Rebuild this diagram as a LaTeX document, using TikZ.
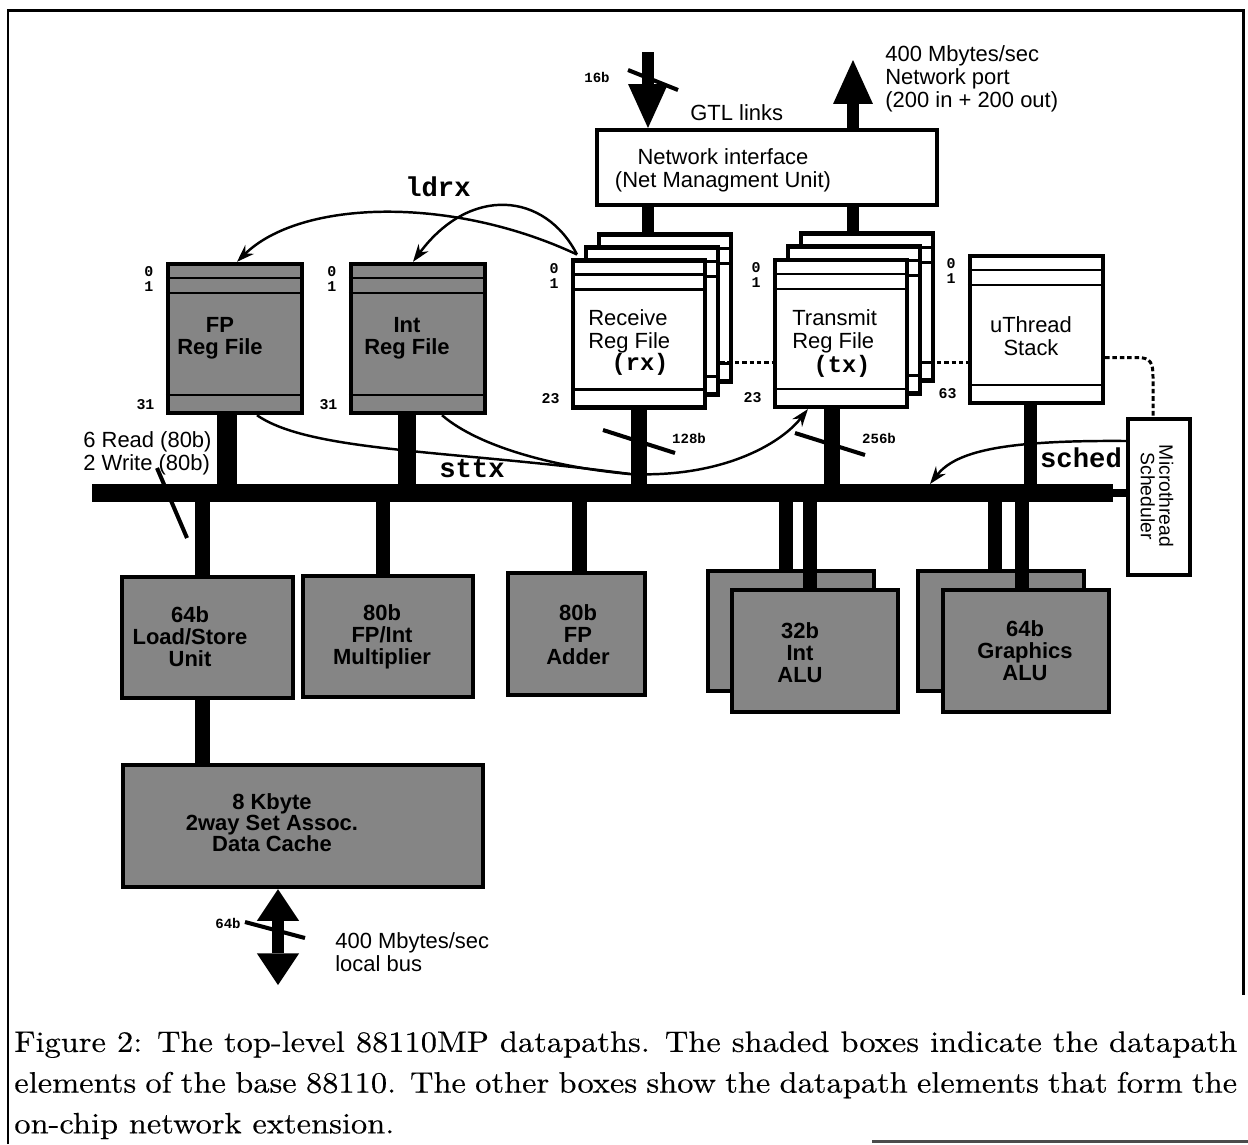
\documentclass[tikz,border=0pt]{standalone}
\usepackage{fontspec}
\setsansfont{Liberation Sans}
\setmonofont{Liberation Mono}
\newfontfamily\capfont{lmroman10-regular.otf}[FakeStretch=1.10, FakeBold=0.3]
\usepackage{tikz}
\usetikzlibrary{arrows.meta, calc}
\definecolor{dither}{gray}{0.52}

\tikzset{
  frameline/.style={line width=1.7pt},
  netbox/.style={draw, line width=2.3pt, fill=white, inner sep=0pt},
  unitbox/.style={draw, line width=2.5pt, fill=dither, inner sep=0pt},
  boxsize/.style 2 args={minimum width=#1*0.02cm, minimum height=#2*0.02cm},
  rowline/.style={line width=1.3pt},
  datapath/.style={line width=#1},
  slash/.style={line width=2.3pt},
  dotline/.style={line width=1.7pt, dash pattern=on 2.6pt off 1.6pt},
  curveline/.style={line width=1.4pt},
  curvearrow/.style={line width=1.4pt, -{Stealth[length=10pt, width=7pt]}},
  bigarrow/.style={line width=6.8pt, -{Triangle[width=22.7pt, length=25pt, line width=0pt]}},
  dblarrow/.style={line width=6.8pt, {Triangle[width=24pt, length=18pt, line width=0pt]}-{Triangle[width=24pt, length=18pt, line width=0pt]}},
  sans/.style={font=\sffamily\fontsize{12.5}{13}\selectfont, inner sep=0pt, align=center},
  shadetxt/.style={font=\sffamily\bfseries\fontsize{12.5}{12.5}\selectfont, inner sep=0pt, align=center},
  mono/.style={font=\ttfamily\bfseries\fontsize{15.5}{16}\selectfont, inner sep=0pt},
  regname/.style={font=\ttfamily\bfseries\fontsize{13.5}{14}\selectfont, inner sep=0pt},
  idx/.style={font=\ttfamily\bfseries\fontsize{8.5}{9}\selectfont, inner sep=0pt},
  bits/.style={font=\ttfamily\bfseries\fontsize{8}{9}\selectfont, inner sep=0pt},
  caption/.style={font=\capfont\fontsize{16.8}{23.2}\selectfont, text width=696pt, align=justify, inner sep=0pt}
}

% row lines of a register file
\newcommand{\regrows}[1]{%
  \draw[rowline] ($(#1.north west)+(0,16)$) -- ($(#1.north east)+(0,16)$);
  \draw[rowline] ($(#1.north west)+(0,31)$) -- ($(#1.north east)+(0,31)$);
  \draw[rowline] ($(#1.south west)+(0,-20)$) -- ($(#1.south east)+(0,-20)$);
}

\begin{document}
\begin{tikzpicture}[x=0.02cm, y=-0.02cm]
\useasboundingbox (0,0) rectangle (1248,1144);
\fill[white] (0,0) rectangle (1248,1144);

% frame
\draw[frameline] (8,1144) -- (8,10) -- (1243,10) -- (1243,995);
\draw[frameline, black!70] (872,1141) -- (1248,1141);

% network interface
\node[netbox, boxsize={340}{75}] (ni) at (767,167.5) {};
\node[sans] (nitxt) at (723,170) {Network interface\\(Net Managment Unit)};

% register files of the 88110
\node[unitbox, boxsize={134}{149}] (fprf) at (235,338.5) {};
\node[unitbox, boxsize={134}{149}] (intrf) at (418,338.5) {};
\regrows{fprf}
\regrows{intrf}
\node[shadetxt] (fptxt) at (220,338) {FP\\Reg File};
\node[shadetxt] (inttxt) at (407,338) {Int\\Reg File};

% network register files
\foreach \n/\x/\y in {rx3/665/308, rx2/652/321, rx/639/334, tx3/867/307, tx2/854/320, tx/841/333.5} {
  \node[netbox, boxsize={132}{147}] (\n) at (\x,\y) {};
  \regrows{\n}
}
\node[sans, anchor=west, align=left] (rxtxt) at (588,331) {Receive\\Reg File};
\node[regname] (rxname) at (640,364) {(rx)};
\node[sans, anchor=west, align=left] (txtxt) at (792,331) {Transmit\\Reg File};
\node[regname] (txname) at (842,366) {(tx)};

\node[netbox, boxsize={133}{147}] (uth) at (1036.5,329.5) {};
\regrows{uth}
\node[sans] (uthtxt) at (1031,336) {uThread\\Stack};

\node[netbox, boxsize={62}{156}] (sched) at (1159,497) {};
\node[sans, rotate=-90, font=\sffamily\fontsize{11}{10.5}\selectfont] (schedtxt) at (1157,496) {Microthread\\Scheduler};

% register indices
\foreach \n/\hi in {fprf/31, intrf/31, rx/23, tx/23, uth/63} {
  \node[idx, anchor=east] (\n-i0) at ($(\n.north west)+(-12,10)$) {0};
  \node[idx, anchor=east] (\n-i1) at ($(\n.north west)+(-12,25)$) {1};
  \node[idx, anchor=east] (\n-ihi) at ($(\n.south west)+(-11,-11)$) {\hi};
}

% execution units
\node[unitbox, boxsize={171}{121}] (ls) at (207.5,637.5) {};
\node[shadetxt] (lstxt) at (190,637) {64b\\Load/Store\\Unit};
\node[unitbox, boxsize={170}{121}] (mul) at (388,636.5) {};
\node[shadetxt] (multxt) at (382,637) {80b\\FP/Int\\Multiplier};
\node[unitbox, boxsize={137}{122}] (add) at (576.5,634) {};
\node[shadetxt] (addtxt) at (578,635) {80b\\FP\\Adder};
\node[unitbox, boxsize={166}{120}] (ialub) at (791,631) {};
\node[unitbox, boxsize={166}{122}] (ialuf) at (815,651) {};
\node[shadetxt] (ialutxt) at (800,653) {32b\\Int\\ALU};
\node[unitbox, boxsize={166}{120}] (galub) at (1001,631) {};
\node[unitbox, boxsize={166}{122}] (galuf) at (1026,651) {};
\node[shadetxt] (galutxt) at (1025,651) {64b\\Graphics\\ALU};
\node[unitbox, boxsize={360}{122}] (cache) at (303,826) {};
\node[shadetxt, font=\sffamily\bfseries\fontsize{12.5}{12}\selectfont] (cachetxt) at (272,823) {8 Kbyte\\2way Set Assoc.\\Data Cache};

% ldrx and sttx and sched moves
\draw[curvearrow] ($(rx.north west)+(6,-4)$) .. controls (450,195) and (300,200) .. ($(fprf.north)+(2,0)$);
\draw[curvearrow] ($(rx.north west)+(6,-4)$) .. controls (545,192) and (470,185) .. ($(intrf.north)+(-5,0)$);
\coordinate (sttxjoin) at (630,474);
\draw[curveline] ($(fprf.south)+(22,0)$) .. controls (310,452) and (450,450) .. (sttxjoin);
\draw[curveline] ($(intrf.south)+(24,0)$) .. controls (480,448) and (560,468) .. (sttxjoin);
\draw[curvearrow] (sttxjoin) .. controls (720,478) and (780,445) .. ($(tx.south west)+(35,0)$);
\coordinate (schedtip) at (930,484);
\draw[curvearrow] ($(sched.west)+(0,-56)$) .. controls (1000,440) and (955,452) .. (schedtip);

% bus and datapaths
\coordinate (busL) at (92,493);
\coordinate (busR) at (1113,493);
\draw[datapath=10.2pt] (busL) -- (busR);
\draw[datapath=4.5pt] (busR) -- (busR -| sched.west);

\coordinate (fpport) at ($(fprf.south)+(-8,0)$);
\coordinate (intport) at ($(intrf.south)+(-11,0)$);
\coordinate (txport) at ($(tx.south)+(-9,0)$);
\coordinate (uthport) at ($(uth.south)+(-6,0)$);
\draw[datapath=11.3pt] (fpport) -- (fpport |- busL);
\draw[datapath=10.2pt] (intport) -- (intport |- busL);
\draw[datapath=9.6pt] (rx.south) -- (rx.south |- busL);
\draw[datapath=9.6pt] (txport) -- (txport |- busL);
\draw[datapath=7.6pt] (uthport) -- (uthport |- busL);

\coordinate (inx) at (648,52);
\coordinate (outx) at (853,60);
\draw[datapath=6.8pt] (inx |- ni.south) -- (inx |- rx3.north);
\draw[datapath=6.8pt] (outx |- ni.south) -- (outx |- tx3.north);

\coordinate (lsport) at ($(ls.north)+(-5,0)$);
\coordinate (mulport) at ($(mul.north)+(-5,0)$);
\coordinate (addport) at ($(add.north)+(3,0)$);
\coordinate (ialubport) at ($(ialub.north)+(-5,0)$);
\coordinate (ialufport) at ($(ialuf.north)+(-5,0)$);
\coordinate (galubport) at ($(galub.north)+(-6,0)$);
\coordinate (galufport) at ($(galuf.north)+(-4,0)$);
\foreach \p in {lsport, mulport, addport, ialubport, ialufport, galubport, galufport}
  \draw[datapath=8.2pt] (\p |- busL) -- (\p);
\draw[datapath=8.2pt] (lsport |- ls.south) -- (lsport |- cache.north);

% network and local bus ports
\draw[bigarrow] (inx) -- (inx |- ni.north);
\draw[bigarrow] (outx |- ni.north) -- (outx);
\coordinate (lbx) at (278,985);
\draw[dblarrow] (lbx |- cache.south) -- (lbx);

% bus widths
\draw[slash] (628,70) -- (678,90);
\draw[slash] (603,430) -- (675,453);
\draw[slash] (795,433) -- (865,455);
\draw[slash] (157,468) -- (187,538);
\draw[slash] (245,922) -- (305,938);
\node[bits] (b16) at (597,77) {16b};
\node[bits] (b128) at (689,438) {128b};
\node[bits] (b256) at (879,438) {256b};
\node[bits] (b64) at (228,923) {64b};

% dotted links
\path ($(rx2.east)+(0,41)$) coordinate (dotA);
\path ($(tx2.east)+(0,42)$) coordinate (dotB);
\path ($(uth.east)+(0,28)$) coordinate (dotC);
\draw[dotline] (dotA) -- (dotA -| tx.west);
\draw[dotline] (dotB) -- (dotB -| uth.west);
\draw[dotline] (dotC) -- ++(32,0) .. controls +(14,0) and +(0,-14) .. ($(sched.north)+(-6,-40)$) -- ($(sched.north)+(-6,0)$);

% labels
\node[sans, anchor=west] (gtl) at (690,113) {GTL links};
\node[sans, anchor=west, align=left] (netport) at (885,79) {400 Mbytes/sec\\Network port\\(200 in + 200 out)};
\node[sans, anchor=west, align=left] (rdwr) at (83,453) {6 Read (80b)\\2 Write (80b)};
\node[sans, anchor=west, align=left] (lbus) at (335,952) {400 Mbytes/sec\\local bus};
\node[mono] (ldrx) at (438,187) {ldrx};
\node[mono] (sttx) at (472,469) {sttx};
\node[mono] (schedlbl) at (1081,458) {sched};

% caption
\node[caption, anchor=north west] (cap) at (14,1031) {\hyphenpenalty=10000 Figure 2: The top-level 88110MP datapaths.  The shaded boxes indicate the datapath\linebreak elements of the base 88110. The other boxes show the datapath elements that form the\linebreak on-chip network extension.};
\end{tikzpicture}
\end{document}
